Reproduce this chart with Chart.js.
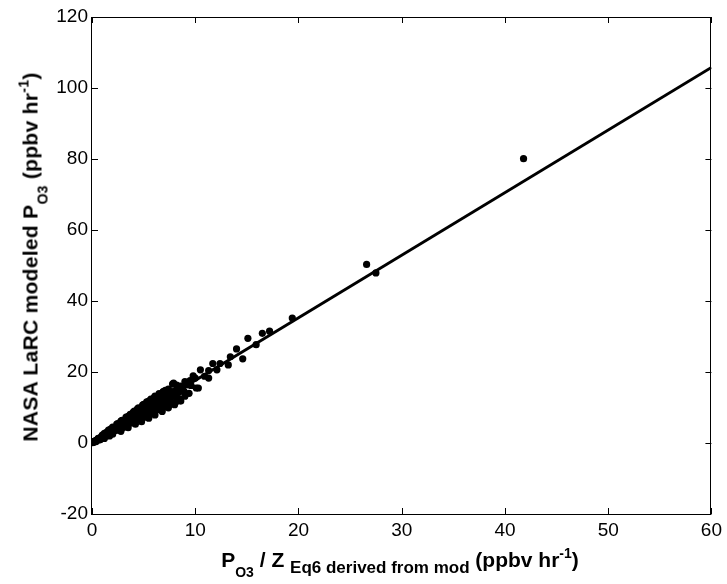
<!DOCTYPE html>
<html>
<head>
<meta charset="utf-8">
<script src="https://cdn.jsdelivr.net/npm/chart.js@4.4.1/dist/chart.umd.min.js"></script>
<style>
	body { margin: 0; background: #fff; }
	#wrap { position: relative; width: 727px; height: 584px; }
	#chart { position: absolute; left: 0; top: 0; }
	.title { position: absolute; font-family: 'Liberation Sans', Arial, sans-serif; font-weight: bold; font-size: 21px; line-height: 21px; white-space: nowrap; color: #000; }
	.title sub, .title sup { line-height: 0; }
	#xtitle { left: 400px; top: 549px; transform: translateX(-50%); }
	#ytitle { left: 31px; top: 257px; transform: translate(-50%, -50%) rotate(-90deg); letter-spacing: 0.3px; }
	.s13 { font-size: 14px; vertical-align: -10px; }
	.s16 { font-size: 17px; vertical-align: -6px; }
	.sup { font-size: 14px; vertical-align: 9px; }
</style>
</head>
<body>
<div id="wrap">
	<canvas id="chart" width="727" height="584"></canvas>
	<div id="xtitle" class="title">P<sub class="s13">O3</sub> / Z <sub class="s16">Eq6 derived from mod</sub> (ppbv hr<sup class="sup">-1</sup>)</div>
	<div id="ytitle" class="title">NASA LaRC modeled P<sub class="s13">O3</sub> (ppbv hr<sup class="sup">-1</sup>)</div>
</div>
<script>
const xTicks = [0, 10, 20, 30, 40, 50, 60];
const yTicks = [-20, 0, 20, 40, 60, 80, 100, 120];
const fitX = [0, 60];
const fitY = [0, 105.8];
// P_O3 / Z (x) vs modeled P_O3 (y)
const modX = [
	0.05, 0.1, 0.15, 0.2, 0.25, 0.3, 0.35, 0.4, 0.45, 0.5,
	0.55, 0.6, 0.65, 0.7, 0.75, 0.8, 0.85, 0.9, 0.95, 1.0,
	1.05, 1.1, 1.15, 1.2, 1.3, 1.35, 1.4, 1.5, 1.55, 1.6,
	1.7, 1.75, 1.8, 1.9, 1.95, 2.0, 2.1, 2.15, 2.2, 2.3,
	2.35, 2.4, 2.5, 2.55, 2.6, 2.7, 2.75, 2.8, 2.85, 2.9,
	3.0, 3.05, 3.1, 3.2, 3.25, 3.3, 3.4, 3.45, 3.5, 3.6,
	3.65, 3.7, 3.8, 3.85, 3.9, 4.0, 4.05, 4.1, 4.2, 4.25,
	4.3, 4.4, 4.45, 4.5, 4.6, 4.65, 4.7, 4.8, 4.85, 4.9,
	5.0, 5.05, 5.1, 5.2, 5.25, 5.3, 5.4, 5.45, 5.5, 5.6,
	5.65, 5.7, 5.8, 5.9, 6.0, 6.1, 6.2, 6.3, 6.4, 6.5,
	6.6, 6.7, 6.8, 6.9, 7.0, 7.1, 7.2, 7.3, 7.5, 7.6,
	7.8, 7.9, 8.0, 8.0, 8.3, 8.6, 9.0, 9.3, 10.0, 10.1,
	10.5, 11.3, 11.3, 11.7, 12.1, 12.4, 13.2, 13.4, 14.0, 14.6,
	15.1, 15.9, 16.5, 17.2, 19.4, 26.6, 27.5, 41.8,
	1.2, 1.6, 2.0, 2.4, 2.9, 3.3, 3.7, 4.1, 4.5, 4.9,
	5.3, 5.7, 6.1, 6.5, 6.9, 7.4, 8.2, 8.6, 9.5, 9.8,
	1.5, 2.0, 2.5, 3.0, 3.5, 4.0, 4.5, 5.0, 5.5, 6.0,
	6.5, 7.0, 7.5, 8.5, 9.0, 9.4,
	7.2, 7.7, 8.3, 8.8, 9.2, 6.3, 5.6, 4.8, 3.9, 3.1,
	2.0, 2.8, 3.5, 4.2, 4.8, 5.5, 6.1, 6.8, 7.4, 8.0, 8.6,
	2.5, 3.0, 3.5, 4.0, 4.4, 5.0, 5.5, 6.0, 6.4, 6.9, 7.8,
	3.3, 3.8, 4.3, 4.7, 5.2, 5.8, 6.2, 6.7, 7.1, 7.6, 8.1, 8.4, 8.9, 9.6,
	0.8, 1.0, 1.2, 1.4, 1.7, 1.8, 0.6, 0.4,
	8.2, 10.9, 10.3
];
const modY = [
	0.1, 0.15, 0.3, 0.35, 0.5, 0.5, 0.7, 0.65, 0.85, 0.8,
	1.05, 0.95, 1.2, 1.1, 1.4, 1.3, 1.6, 1.45, 1.8, 1.6,
	1.95, 1.75, 2.2, 1.9, 2.4, 2.1, 2.7, 2.4, 2.9, 2.6,
	3.2, 2.8, 3.4, 3.0, 3.7, 3.2, 4.0, 3.4, 4.3, 3.6,
	4.6, 3.9, 5.0, 4.1, 4.7, 5.4, 4.3, 6.2, 4.8, 5.6,
	4.7, 6.0, 5.2, 6.4, 5.0, 5.8, 6.9, 5.4, 6.3, 7.3,
	5.7, 6.6, 7.8, 6.1, 7.0, 8.3, 6.4, 7.4, 8.6, 6.8,
	7.8, 9.0, 7.2, 8.1, 9.4, 7.5, 8.5, 9.9, 7.9, 8.9,
	10.3, 8.2, 9.3, 10.6, 8.6, 9.6, 11.0, 9.0, 10.0, 11.3,
	9.3, 10.4, 11.6, 9.8, 10.8, 12.0, 10.2, 11.3, 12.4, 10.7,
	11.8, 12.9, 11.2, 12.4, 13.3, 14.8, 12.0, 13.1, 14.0, 12.6,
	13.8, 16.9, 14.6, 11.2, 14.2, 15.3, 17.3, 16.4, 18.3, 15.5,
	20.6, 20.4, 18.3, 22.4, 20.6, 22.4, 22.0, 24.3, 26.5, 23.7,
	29.5, 27.7, 30.9, 31.5, 35.2, 50.3, 47.9, 80.1,
	2.7, 3.6, 4.5, 5.3, 6.4, 7.3, 8.1, 9.0, 9.9, 10.7,
	11.6, 12.4, 13.2, 13.9, 14.5, 15.2, 16.3, 16.0, 17.6, 18.9,
	2.1, 2.8, 3.6, 4.3, 5.0, 5.7, 6.5, 7.2, 7.9, 8.6,
	9.4, 10.1, 10.8, 12.4, 13.2, 14.0,
	13.6, 14.4, 15.0, 15.9, 16.8, 10.0, 9.0, 7.6, 6.2, 4.9,
	2.5, 3.3, 4.3, 5.3, 6.0, 7.0, 7.9, 8.9, 9.9, 10.8, 11.8,
	5.5, 6.4, 7.5, 8.7, 9.6, 10.9, 11.8, 12.7, 13.3, 14.4, 16.6,
	5.2, 6.3, 7.0, 8.0, 8.9, 9.4, 10.6, 11.0, 12.4, 12.0, 13.3, 14.2, 14.6, 16.2,
	0.9, 2.2, 1.3, 3.0, 2.0, 3.9, 1.3, 0.4,
	11.7, 18.8, 15.5
];

const points = modX.map((x, i) => ({ x: x, y: modY[i] }));
const fit = fitX.map((x, i) => ({ x: x, y: fitY[i] }));

const frame = {
	id: 'frame',
	afterDraw: chart => {
		const ctx = chart.ctx;
		const area = chart.chartArea;
		const sx = chart.scales.x;
		const sy = chart.scales.y;
		const len = 6;
		ctx.save();
		ctx.strokeStyle = '#000';
		ctx.lineWidth = 1;
		ctx.beginPath();
		xTicks.forEach(v => {
			const px = Math.round(sx.getPixelForValue(v)) + 0.5;
			ctx.moveTo(px, area.bottom);
			ctx.lineTo(px, area.bottom - len);
			ctx.moveTo(px, area.top);
			ctx.lineTo(px, area.top + len);
		});
		yTicks.forEach(v => {
			const py = Math.round(sy.getPixelForValue(v)) + 0.5;
			ctx.moveTo(area.left, py);
			ctx.lineTo(area.left + len, py);
			ctx.moveTo(area.right, py);
			ctx.lineTo(area.right - len, py);
		});
		ctx.stroke();
		ctx.strokeRect(Math.round(area.left) - 0.5, Math.round(area.top) + 0.5, Math.round(area.right - area.left), Math.round(area.bottom - area.top));
		ctx.restore();
	}
};

const tickFont = {
	family: "'Liberation Sans', Arial, sans-serif",
	size: 19
};

new Chart(document.getElementById('chart'), {
	type: 'scatter',
	data: {
		datasets: [{
			data: points,
			backgroundColor: '#000',
			borderWidth: 0,
			pointRadius: 3.6
		}, {
			type: 'line',
			data: fit,
			borderColor: '#000',
			borderWidth: 3,
			pointRadius: 0,
			fill: false
		}]
	},
	options: {
		responsive: false,
		animation: false,
		devicePixelRatio: 1,
		layout: {
			padding: { left: 0, right: 15, top: 17, bottom: 0 }
		},
		plugins: {
			legend: { display: false },
			tooltip: { enabled: false }
		},
		scales: {
			x: {
				type: 'linear',
				min: 0,
				max: 60,
				afterBuildTicks: scale => {
					scale.ticks = xTicks.map(v => ({ value: v }));
				},
				afterFit: scale => {
					scale.height = 70;
				},
				grid: { display: false, drawTicks: false },
				border: { display: false },
				ticks: { color: '#000', font: tickFont, padding: 5, maxRotation: 0 }
			},
			y: {
				type: 'linear',
				min: -20,
				max: 120,
				afterBuildTicks: scale => {
					scale.ticks = yTicks.map(v => ({ value: v }));
				},
				afterFit: scale => {
					scale.width = 92;
				},
				grid: { display: false, drawTicks: false },
				border: { display: false },
				ticks: { color: '#000', font: tickFont, padding: 4 }
			}
		}
	},
	plugins: [frame]
});
</script>
</body>
</html>
